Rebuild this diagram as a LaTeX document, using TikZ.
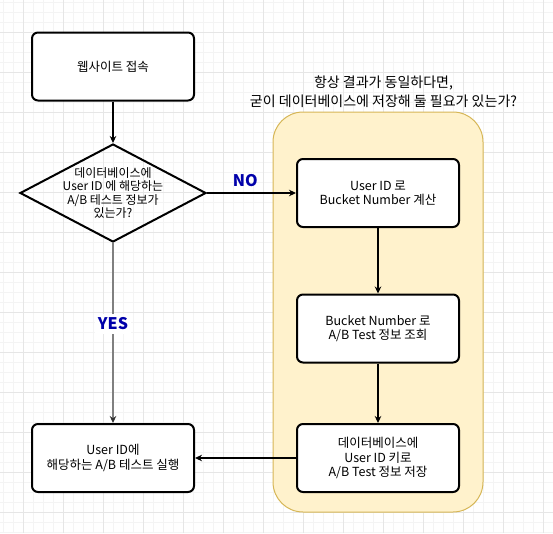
\documentclass[tikz,border=0pt]{standalone}
\usepackage{fontspec}
\setmainfont{Noto Sans CJK KR}
\usepackage{xcolor}
\usetikzlibrary{arrows.meta,positioning,shapes.geometric,backgrounds}
\definecolor{notefill}{HTML}{FFF2CC}
\definecolor{noteline}{HTML}{D6B656}
\definecolor{answer}{HTML}{0000AA}
\definecolor{gridminor}{HTML}{F4F4F4}
\definecolor{gridmajor}{HTML}{E6E6E6}
\definecolor{yesline}{HTML}{808080}

\begin{document}
\begin{tikzpicture}[x=1pt,y=-1pt,>={Stealth[length=7pt,width=6.5pt]},
  stepbox/.style={draw,line width=2pt,rounded corners=6pt,fill=white,
    minimum width=162pt,minimum height=68pt,align=center,
    font=\fontsize{12.5}{14.5}\selectfont},
  flow/.style={->,line width=1.2pt},
  answerlab/.style={text=answer,font=\fontsize{16}{18}\selectfont\bfseries}]
\useasboundingbox (0,0) rectangle (553,533);
\foreach \gx in {3,13,...,553} \draw[gridminor,line width=0.8pt] (\gx,0) -- (\gx,533);
\foreach \gy in {2,12,...,533} \draw[gridminor,line width=0.8pt] (0,\gy) -- (553,\gy);
\foreach \gx in {23,63,...,553} \draw[gridmajor,line width=0.8pt] (\gx,0) -- (\gx,533);
\foreach \gy in {32,72,...,533} \draw[gridmajor,line width=0.8pt] (0,\gy) -- (553,\gy);

\node[draw=noteline,fill=notefill,line width=1pt,rounded corners=30pt,
  minimum width=210pt,minimum height=400pt] (note) at (378,312) {};
\node[align=center,font=\fontsize{14}{19}\selectfont] (question) at (383.5,92)
  {항상 결과가 동일하다면,\\굳이 데이터베이스에 저장해 둘 필요가 있는가?};

\node[stepbox] (visit) at (113,66.5) {웹사이트 접속};
\node[diamond,draw,line width=2pt,inner sep=0pt,minimum width=186pt,minimum height=98pt] (check) at (113,193) {};
\node[align=center,font=\fontsize{12}{13.5}\selectfont] (checktext) at (check) {데이터베이스에\\User ID 에 해당하는\\A/B 테스트 정보가\\있는가?};
\node[stepbox] (calc) at (378,193) {User ID 로\\Bucket Number 계산};
\node[stepbox] (lookup) at (378,328.5) {Bucket Number 로\\A/B Test 정보 조회};
\node[stepbox] (store) at (378,458) {데이터베이스에\\User ID 키로\\A/B Test 정보 저장};
\node[stepbox] (run) at (113,458) {User ID에\\해당하는 A/B 테스트 실행};

\draw[flow] (visit) -- (check);
\draw[flow] (check.east) -- node[answerlab,above=2pt,pos=0.43] {NO} (calc.west);
\draw[flow,yesline,-{Stealth[length=7pt,width=6.5pt,black!80]}] (check.south) -- node[answerlab,fill=white,pos=0.45] {YES} (run.north);
\draw[flow] (calc) -- (lookup);
\draw[flow] (lookup) -- (store);
\draw[flow] (store.west) -- (run.east);
\end{tikzpicture}
\end{document}
